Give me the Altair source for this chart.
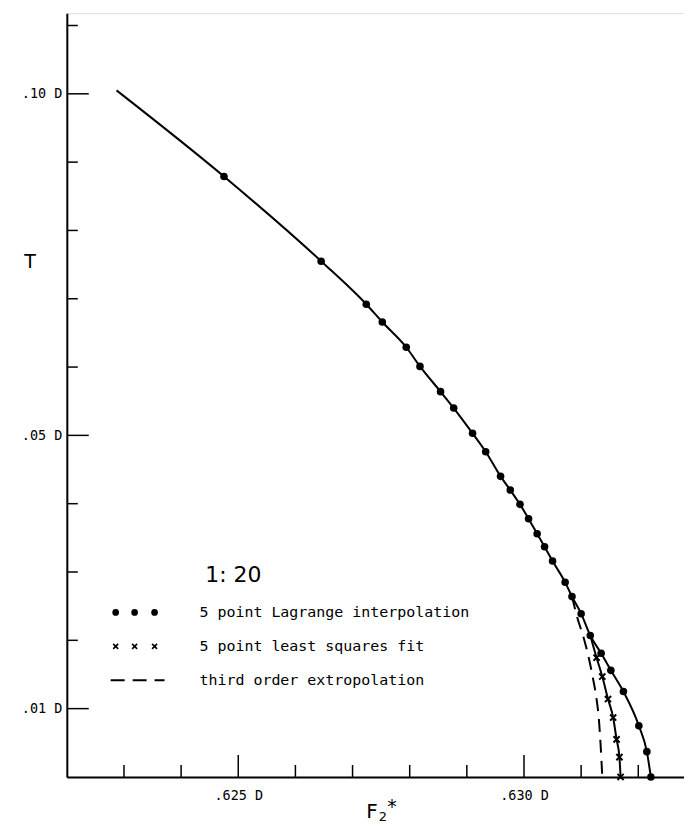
import altair as alt
import pandas as pd

# ---------------- data ----------------
# main curve: 5 point Lagrange interpolation (first point is the line start, no dot)
lag_F = [0.62287, 0.62475, 0.62645, 0.62724, 0.62752, 0.62794, 0.62818, 0.62854,
         0.62877, 0.62910, 0.62933, 0.62959, 0.62976, 0.62993, 0.63008, 0.63023,
         0.63036, 0.63050, 0.63072, 0.63084, 0.63100, 0.63116, 0.63135, 0.63152,
         0.63174, 0.63201, 0.63215, 0.63222]
lag_T = [0.1005, 0.0879, 0.0755, 0.0692, 0.0666, 0.0629, 0.0601, 0.0564,
         0.0540, 0.0503, 0.0476, 0.0440, 0.0420, 0.0399, 0.0378, 0.0356,
         0.0337, 0.0316, 0.0285, 0.0264, 0.0239, 0.0207, 0.0181, 0.0156,
         0.0125, 0.0075, 0.0037, 0.0]
lag_dot = [False] + [True] * (len(lag_F) - 1)

# 5 point least squares fit branch (first point = branch start, no cross)
lsq_F = [0.63116, 0.63127, 0.63137, 0.63147, 0.63156, 0.63162, 0.63167, 0.63169]
lsq_T = [0.0207, 0.01745, 0.0147, 0.0114, 0.0087, 0.0055, 0.0029, 0.0]
lsq_mark = [False] + [True] * (len(lsq_F) - 1)

# third order extrapolation (dashed)
ext_F = [0.63084, 0.63093, 0.63105, 0.63114, 0.63121, 0.63127, 0.63131, 0.63134, 0.63137]
ext_T = [0.0264, 0.0234, 0.0202, 0.0172, 0.0143, 0.0114, 0.0085, 0.0048, 0.0]

x_major = [0.625, 0.630]
x_major_labels = [".625 D", ".630 D"]
x_minor = [0.623, 0.624, 0.626, 0.627, 0.628, 0.629, 0.631, 0.632]
y_major = [0.01, 0.05, 0.10]
y_major_labels = [".01 D", ".05 D", ".10 D"]
y_minor = [0.02, 0.03, 0.04, 0.06, 0.07, 0.08, 0.09, 0.11]

legend_title = "1: 20"
legend_labels = ["5 point Lagrange interpolation", "5 point least squares fit",
                 "third order extropolation"]
y_title = "T"
x_title_parts = ["F", "2", "*"]

# ---------------- chart ----------------
W, H = 619, 766
FONT = "DejaVu Sans"
MONO = "DejaVu Sans Mono"
xs = alt.Scale(domain=[0.622, 0.6328], nice=False, zero=False)
ys = alt.Scale(domain=[0.0, 0.1118], nice=False, zero=False)

def label_expr(vals, labs):
    e = "''"
    for v, l in zip(reversed(vals), reversed(labs)):
        e = f"datum.value == {v} ? '{l}' : ({e})"
    return e

lag = pd.DataFrame({"F": lag_F, "T": lag_T, "dot": lag_dot})
lsq = pd.DataFrame({"F": lsq_F, "T": lsq_T, "mark": lsq_mark})
ext = pd.DataFrame({"F": ext_F, "T": ext_T})

xaxis = alt.Axis(values=x_major, labelExpr=label_expr(x_major, x_major_labels),
                 ticks=False, grid=False, domainColor="black", domainWidth=2,
                 labelFont=MONO, labelFontSize=13.5, labelColor="black",
                 labelPadding=12, title=None, labelFlush=False)
yaxis = alt.Axis(values=y_major, labelExpr=label_expr(y_major, y_major_labels),
                 ticks=False, grid=False, domainColor="black", domainWidth=2,
                 labelFont=MONO, labelFontSize=13.5, labelColor="black",
                 labelPadding=5, title=None, labelFlush=False)

X = alt.X("F:Q", scale=xs, axis=xaxis)
Y = alt.Y("T:Q", scale=ys, axis=yaxis)
Xp = alt.X("F:Q", scale=xs)
Yp = alt.Y("T:Q", scale=ys)

lag_line = alt.Chart(lag).mark_line(color="black", strokeWidth=2, interpolate="monotone").encode(x=X, y=Y)
lag_pts = alt.Chart(lag).transform_filter("datum.dot").mark_point(
    filled=True, color="black", size=58, opacity=1).encode(x=Xp, y=Yp)
lsq_line = alt.Chart(lsq).mark_line(color="black", strokeWidth=2, interpolate="monotone").encode(x=Xp, y=Yp)
XSHAPE = "M-1,-1L1,1M-1,1L1,-1"
lsq_pts = alt.Chart(lsq).transform_filter("datum.mark").mark_point(
    shape=XSHAPE, filled=False, color="black", size=38, strokeWidth=2, opacity=1).encode(x=Xp, y=Yp)
ext_line = alt.Chart(ext).mark_line(color="black", strokeWidth=2, strokeDash=[13, 8],
                                    interpolate="monotone").encode(x=Xp, y=Yp)

# inward ticks
xt_major = alt.Chart(pd.DataFrame({"F": x_major})).mark_rule(color="black", strokeWidth=1.5).encode(
    x=Xp, y=alt.value(H), y2=alt.value(H - 22))
xt_minor = alt.Chart(pd.DataFrame({"F": x_minor})).mark_rule(color="black", strokeWidth=1.5).encode(
    x=Xp, y=alt.value(H), y2=alt.value(H - 12))
yt_major = alt.Chart(pd.DataFrame({"T": y_major})).mark_rule(color="black", strokeWidth=1.5).encode(
    y=Yp, x=alt.value(0), x2=alt.value(22))
yt_minor = alt.Chart(pd.DataFrame({"T": y_minor})).mark_rule(color="black", strokeWidth=1.5).encode(
    y=Yp, x=alt.value(0), x2=alt.value(11))

one = pd.DataFrame({"a": [0]})
layers = [lag_line, lsq_line, ext_line, lag_pts, lsq_pts, xt_major, xt_minor, yt_major, yt_minor]

# titles
layers.append(alt.Chart(one).mark_text(text=y_title, font=FONT, fontSize=19, color="black").encode(
    x=alt.value(-37), y=alt.value(250)))
layers.append(alt.Chart(one).mark_text(text=x_title_parts[0], font=FONT, fontSize=20, color="black").encode(
    x=alt.value(306), y=alt.value(801)))
layers.append(alt.Chart(one).mark_text(text=x_title_parts[1], font=FONT, fontSize=13, color="black").encode(
    x=alt.value(317), y=alt.value(806)))
layers.append(alt.Chart(one).mark_text(text=x_title_parts[2], font=FONT, fontSize=19, color="black").encode(
    x=alt.value(326), y=alt.value(796)))

# legend
layers.append(alt.Chart(one).mark_text(text=legend_title, font=FONT, fontSize=22, color="black").encode(
    x=alt.value(167), y=alt.value(563)))
row_y = [601, 635, 669]
sym_x = [49, 68, 88]
for i, lab in enumerate(legend_labels):
    layers.append(alt.Chart(one).mark_text(text=lab, font=MONO, fontSize=15, align="left",
                                           color="black").encode(
        x=alt.value(133), y=alt.value(row_y[i])))
for sx in sym_x:
    layers.append(alt.Chart(one).mark_point(filled=True, color="black", size=45, opacity=1).encode(
        x=alt.value(sx), y=alt.value(row_y[0])))
    layers.append(alt.Chart(one).mark_point(shape=XSHAPE, filled=False, color="black", size=25,
                                            strokeWidth=1.6, opacity=1).encode(
        x=alt.value(sx), y=alt.value(row_y[1])))
layers.append(alt.Chart(one).mark_rule(color="black", strokeWidth=2, strokeDash=[14, 8]).encode(
    x=alt.value(44), x2=alt.value(98), y=alt.value(row_y[2])))

chart = alt.layer(*layers).properties(
    width=W, height=H,
    autosize=alt.AutoSizeParams(type="none"),
    padding={"left": 59, "top": 4, "right": 0, "bottom": 52},
).configure_view(stroke=None).configure(background="white")

chart.save("out.html", embed_options={"renderer": "svg", "actions": False})
